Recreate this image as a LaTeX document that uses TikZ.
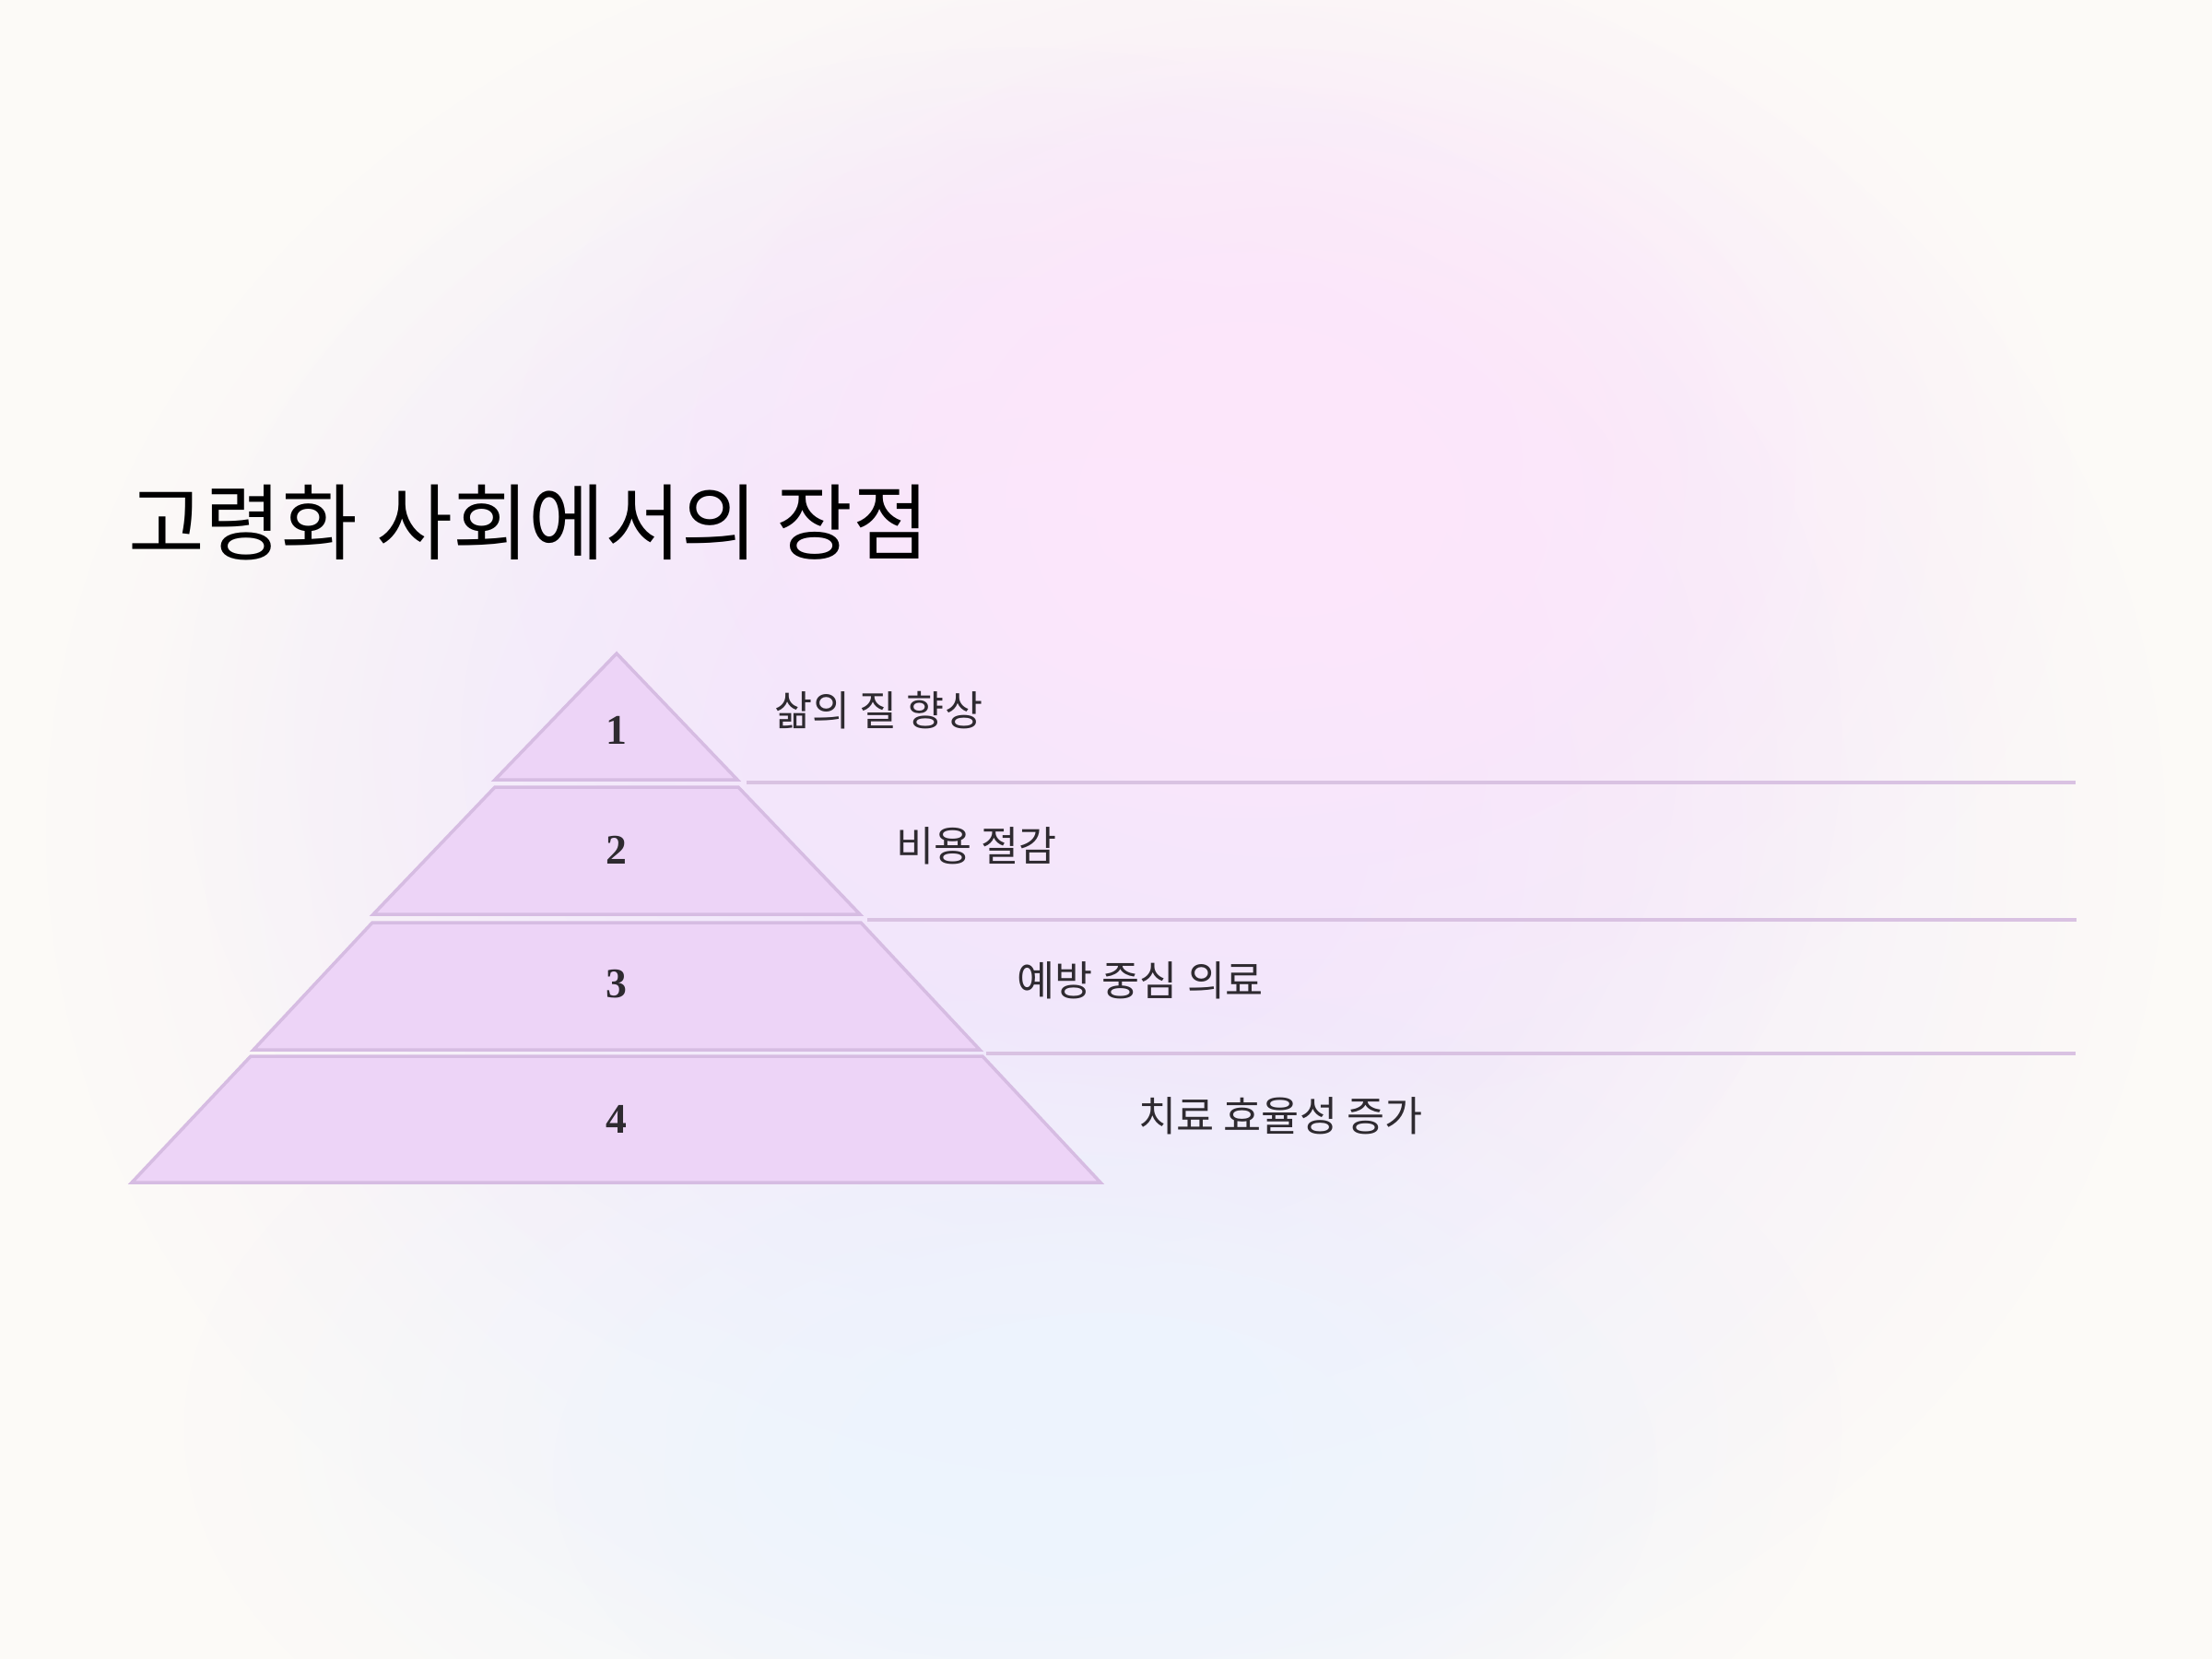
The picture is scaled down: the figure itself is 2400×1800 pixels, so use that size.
\documentclass[tikz,border=0pt]{standalone}
\usepackage{fontspec}
\usetikzlibrary{fadings}
\newfontfamily\krfont{Noto Sans CJK KR}
\newfontfamily\numfont{Liberation Serif}
\definecolor{bgbase}{HTML}{FCFAF7}
\definecolor{pinkblob}{HTML}{FDE6FB}
\definecolor{lavblob}{HTML}{F1E6FC}
\definecolor{blueblob}{HTML}{EDF4FE}
\definecolor{tierfill}{HTML}{EDD4F7}
\definecolor{tierdraw}{HTML}{D6BCE2}
\definecolor{sepline}{HTML}{D9C2E2}
\definecolor{labeltext}{HTML}{2E2A30}
\tikzfading[name=softfade, inner color=transparent!0, outer color=transparent!100]
\tikzset{
  tier/.style={fill=tierfill, draw=tierdraw, line width=1pt, line join=miter},
  sep/.style={draw=sepline, line width=1pt},
  numlabel/.style={font=\numfont\bfseries\fontsize{13}{15}\selectfont, text=labeltext},
  itemlabel/.style={anchor=west, font=\krfont\fontsize{12.7}{15}\selectfont, text=labeltext, inner sep=0pt},
  titlelabel/.style={anchor=west, font=\krfont\fontsize{25.6}{30}\selectfont, text=black, inner sep=0pt}
}
\begin{document}
\begin{tikzpicture}[x=0.01cm, y=-0.01cm]
\useasboundingbox (0,0) rectangle (2400,1800);
\fill[bgbase] (0,0) rectangle (2400,1800);
\begin{scope}
\clip (0,0) rectangle (2400,1800);
\fill[lavblob, path fading=softfade] (1200,900) ellipse (1150 and 1000);
\fill[lavblob, path fading=softfade] (1100,800) ellipse (900 and 750);
\fill[pinkblob, path fading=softfade] (1400,550) ellipse (850 and 650);
\fill[pinkblob, path fading=softfade] (1350,500) ellipse (600 and 450);
\fill[blueblob, path fading=softfade] (1100,1550) ellipse (900 and 500);
\fill[blueblob, path fading=softfade] (1200,1600) ellipse (600 and 350);
\end{scope}

\node[titlelabel] (title) at (139,567) {고령화 사회에서의 장점};

% pyramid tiers
\path[tier] (669,709) -- (800,846) -- (537,846) -- cycle;
\path[tier] (537,854) -- (801,854) -- (933,992) -- (405,992) -- cycle;
\path[tier] (404,1001) -- (934,1001) -- (1063,1139) -- (275,1139) -- cycle;
\path[tier] (272,1146) -- (1066,1146) -- (1194,1283) -- (143,1283) -- cycle;

\node[numlabel] (n1) at (669,792) {1};
\node[numlabel] (n2) at (669,922) {2};
\node[numlabel] (n3) at (669,1068) {3};
\node[numlabel] (n4) at (669,1214) {4};

% separator lines
\coordinate (s1a) at (810,849);
\coordinate (s1b) at (2252,849);
\coordinate (s2a) at (941,998);
\coordinate (s2b) at (2253,998);
\coordinate (s3a) at (1070,1143);
\coordinate (s3b) at (2252,1143);
\draw[sep] (s1a) -- (s1b);
\draw[sep] (s2a) -- (s2b);
\draw[sep] (s3a) -- (s3b);

\node[itemlabel] (l1) at (840,771) {삶의 질 향상};
\node[itemlabel] (l2) at (972,918) {비용 절감};
\node[itemlabel] (l3) at (1103,1064) {예방 중심 의료};
\node[itemlabel] (l4) at (1235,1211) {치료 효율성 증가};
\end{tikzpicture}
\end{document}
